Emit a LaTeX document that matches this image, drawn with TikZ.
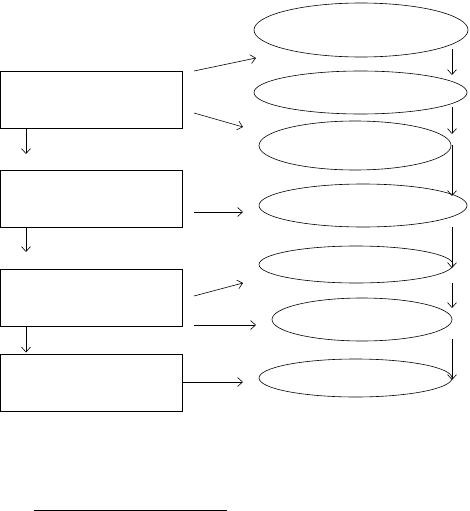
\documentclass[tikz,border=0pt]{standalone}
\usetikzlibrary{shapes.geometric, arrows.meta, calc}
\begin{document}
\begin{tikzpicture}[x=1pt, y=-1pt, >={Straight Barb[length=5pt, width=9pt]},
	box/.style={draw, line width=0.9pt, rectangle, minimum width=182pt, minimum height=57pt, inner sep=0pt, outer sep=0pt},
	oval/.style={draw, line width=0.6pt, ellipse, inner sep=0pt, outer sep=0pt},
	arr/.style={->, line width=0.6pt}]
	\useasboundingbox (0, 0) rectangle (469, 511);
	\node[box] (b1) at (91, 99.5) {};
	\node[box] (b2) at (91, 198.5) {};
	\node[box] (b3) at (91, 297.5) {};
	\node[box] (b4) at (91, 383) {};
	\node[oval, minimum width=214pt, minimum height=54pt] (e1) at (361, 30) {};
	\node[oval, minimum width=213pt, minimum height=43pt] (e2) at (360.5, 92.5) {};
	\node[oval, minimum width=192pt, minimum height=49pt] (e3) at (355, 145.5) {};
	\node[oval, minimum width=208pt, minimum height=43pt] (e4) at (363, 205.5) {};
	\node[oval, minimum width=194pt, minimum height=37pt] (e5) at (356, 264.5) {};
	\node[oval, minimum width=180pt, minimum height=43pt] (e6) at (362, 319.5) {};
	\node[oval, minimum width=193pt, minimum height=38pt] (e7) at (355.5, 378) {};
	% boxes down the left
	\draw[arr] ($(b1.south west)+(26,0)$) -- ($(b2.north west)+(26,-16)$);
	\draw[arr] ($(b2.south west)+(26,0)$) -- ($(b3.north west)+(26,-17)$);
	\draw[arr] ($(b3.south west)+(26,0)$) -- ($(b4.north west)+(26,-2)$);
	% boxes to ovals
	\draw[arr] ($(b1.north east)+(12,0)$) -- ($(e1.west)+(2,28)$);
	\draw[arr] ($(b1.east)+(12,13.5)$) -- ($(e3.west)+(-16,-18.5)$);
	\draw[arr] ($(b2.east)+(12,13.5)$) -- ($(e4.west)+(-16,6.5)$);
	\draw[arr] ($(b3.east)+(12,-1.5)$) -- ($(e5.west)+(-16,18.5)$);
	\draw[arr] ($(b3.south east)+(12,-1)$) -- ($(e6.west)+(-16,5.5)$);
	\draw[arr] ($(b4.east)+(0,-1)$) -- ($(e7.west)+(-16,4)$);
	% ovals down the right
	\draw[arr] ($(e1.east)+(-16,19)$) -- ($(e2.east)+(-15,-17.5)$);
	\draw[arr] ($(e2.east)+(-15,14.5)$) -- ($(e3.east)+(1,-11.5)$);
	\draw[arr] ($(e3.east)+(1,-0.5)$) -- ($(e4.east)+(-15,-9.5)$);
	\draw[arr] ($(e4.east)+(-15,21.5)$) -- ($(e5.east)+(-1,3.5)$);
	\draw[arr] ($(e5.east)+(-1,18.5)$) -- ($(e6.east)+(0,-11.5)$);
	\draw[arr] ($(e6.east)+(0,19.5)$) -- ($(e7.east)+(0,2)$);
	\draw[line width=0.9pt] (34, 510) -- (227, 510);
\end{tikzpicture}
\end{document}
